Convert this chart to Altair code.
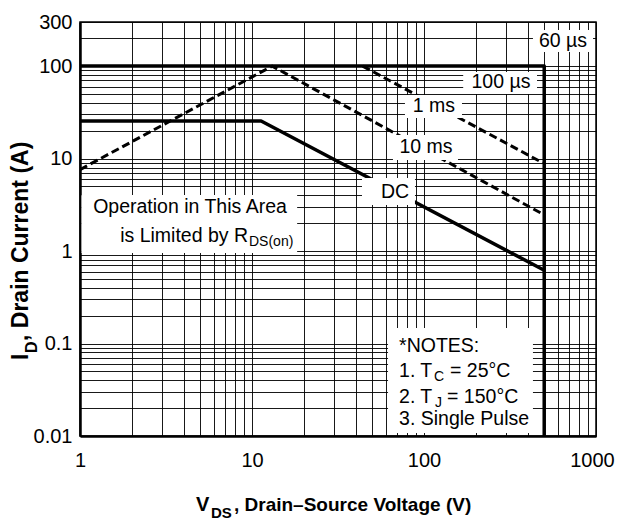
import altair as alt
import pandas as pd

FONT = "Liberation Sans"

# ---------------- axis grid / tick values ----------------
x_grid = [round(k * 10 ** e, 6) for e in range(0, 3) for k in range(1, 10)] + [1000]
y_grid = [round(k * 10 ** e, 6) for e in range(-2, 2) for k in range(1, 10)] + [100, 200, 300]
x_tick_labels = [1, 10, 100, 1000]
y_tick_labels = [0.01, 0.1, 1, 10, 100, 300]

# ---------------- curves (V_DS [V], I_D [A]) ----------------
limit_v = [1, 500, 500]          # 60 us / package limit + BVdss
limit_i = [100, 100, 0.01]
rds_v = [1, 13.1, 483]           # RDS(on) limit continuing into pulse line
rds_i = [7.6, 100, 2.55]
pulse_v = [44, 490]              # shorter pulse line
pulse_i = [100, 9.0]
dc_v = [1, 11.3, 500]            # DC
dc_i = [25.5, 25.5, 0.62]

# ---------------- annotations ----------------
label_text = ["60 µs", "100 µs", "1 ms", "10 ms", "DC", "Operation in This Area"]
label_v = [643, 280, 114.3, 102.7, 67.8, 4.36]
label_i = [187, 67.3, 37.0, 13.35, 4.35, 3.0]

box_x1 = [430, 169, 77.5, 66.0, 43.6, 1.02, 61.8]
box_x2 = [961, 454, 166.3, 157.6, 88.6, 18.3, 430]
box_y1 = [246, 86.4, 48.7, 18.0, 6.17, 4.04, 0.1472]
box_y2 = [142, 49.9, 27.5, 9.65, 3.15, 0.953, 0.01077]

rds_note_v = 9.48
rds_note_i = 1.455

notes_v = 71.6
notes_i = [0.0940, 0.05045, 0.02640, 0.01527]

# ---------------- scales / axes ----------------
xs = alt.Scale(type="log", domain=[1, 1000], nice=False)
ys = alt.Scale(type="log", domain=[0.01, 300], nice=False)
x_axis = alt.Axis(
    values=x_grid,
    labelExpr="indexof([1,10,100,1000], datum.value) >= 0 ? format(datum.value, '~g') : ''",
    labelOffset={"condition": {"test": "datum.value == 1000", "value": -4}, "value": 0},
    title=None, grid=True, ticks=False, labelFlush=False, labelOverlap=False,
    labelPadding=14, labelFontSize=20, labelFont=FONT, labelColor="black",
    domainColor="black", domainWidth=2.5, gridColor="#000", gridWidth=1, gridOpacity=0.9,
)
y_axis = alt.Axis(
    values=y_grid,
    labelExpr="indexof([0.01,0.1,1,10,100,300], datum.value) >= 0 ? format(datum.value, '~g') : ''",
    title=None, grid=True, ticks=False, labelFlush=False, labelOverlap=False,
    labelPadding=8, labelFontSize=20, labelFont=FONT, labelColor="black",
    domainColor="black", domainWidth=2.5, gridColor="#000", gridWidth=1, gridOpacity=0.9,
)


def X(f):
    return alt.X(f, type="quantitative", scale=xs, axis=x_axis)


def Y(f):
    return alt.Y(f, type="quantitative", scale=ys, axis=y_axis)


solid_df = pd.concat([
    pd.DataFrame({"v": limit_v, "i": limit_i, "s": "limit", "o": range(3)}),
    pd.DataFrame({"v": dc_v, "i": dc_i, "s": "dc", "o": range(3)}),
])
dashed_df = pd.concat([
    pd.DataFrame({"v": rds_v, "i": rds_i, "s": "rds", "o": range(3)}),
    pd.DataFrame({"v": pulse_v, "i": pulse_i, "s": "pulse", "o": range(2)}),
])

solid = alt.Chart(solid_df).mark_line(color="black", strokeWidth=3.5, strokeJoin="round", clip=True).encode(
    x=X("v"), y=Y("i"), detail="s:N", order="o:Q")
dashed = alt.Chart(dashed_df).mark_line(color="black", strokeWidth=3, strokeDash=[8, 4], clip=True).encode(
    x=X("v"), y=Y("i"), detail="s:N", order="o:Q")

boxes_df = pd.DataFrame({"x1": box_x1, "x2": box_x2, "y1": box_y1, "y2": box_y2})
boxes = alt.Chart(boxes_df).mark_rect(color="white", opacity=1).encode(
    x=X("x1"), x2="x2", y=Y("y1"), y2="y2")

labels_df = pd.DataFrame({"t": label_text, "v": label_v, "i": label_i})
labels = alt.Chart(labels_df).mark_text(font=FONT, fontSize=19.5, color="black", align="center", baseline="middle").encode(
    x=X("v"), y=Y("i"), text="t:N")


def piece(text, v, i, size=19.5, align="left", dx=0, dy=0, weight="normal"):
    df = pd.DataFrame({"t": [text], "v": [v], "i": [i]})
    return alt.Chart(df).mark_text(font=FONT, fontSize=size, color="black", align=align, baseline="middle",
                                   dx=dx, dy=dy, fontWeight=weight).encode(x=X("v"), y=Y("i"), text="t:N")


rds_pieces = [
    piece("is Limited by R", rds_note_v, rds_note_i, align="right"),
    piece("DS(on)", rds_note_v, rds_note_i, size=14, align="left", dx=1, dy=6),
]
notes_pieces = [
    piece("*NOTES:", notes_v, notes_i[0]),
    piece("1. T", notes_v, notes_i[1]),
    piece("C", notes_v, notes_i[1], size=14, dx=35, dy=6),
    piece("= 25°C", notes_v, notes_i[1], dx=51),
    piece("2. T", notes_v, notes_i[2]),
    piece("J", notes_v, notes_i[2], size=14, dx=36, dy=6),
    piece("= 150°C", notes_v, notes_i[2], dx=48),
    piece("3. Single Pulse", notes_v, notes_i[3]),
]


def title_piece(text, px, py, size, angle=0):
    df = pd.DataFrame({"t": [text]})
    return alt.Chart(df).mark_text(font=FONT, fontSize=size, fontWeight="bold", color="black", align="left",
                                   baseline="alphabetic", angle=angle).encode(
        x=alt.value(px), y=alt.value(py), text="t:N")


titles = [
    title_piece("V", 116, 489, 20),
    title_piece("DS", 131, 496, 15),
    title_piece(", Drain–Source Voltage (V)", 154, 489, 19),
    title_piece("I", -52, 338, 23, angle=270),
    title_piece("D", -43, 331, 16, angle=270),
    title_piece(", Drain Current (A)", -52, 319, 23, angle=270),
]

chart = alt.layer(solid, dashed, boxes, labels, *rds_pieces, *notes_pieces, *titles).properties(
    width=516, height=414,
    autosize=alt.AutoSizeParams(type="none"),
    padding={"left": 72, "top": 14, "right": 19, "bottom": 85},
).configure_view(stroke="black", strokeWidth=1.5)

chart.save("out.html", embed_options={"renderer": "svg", "actions": False})
